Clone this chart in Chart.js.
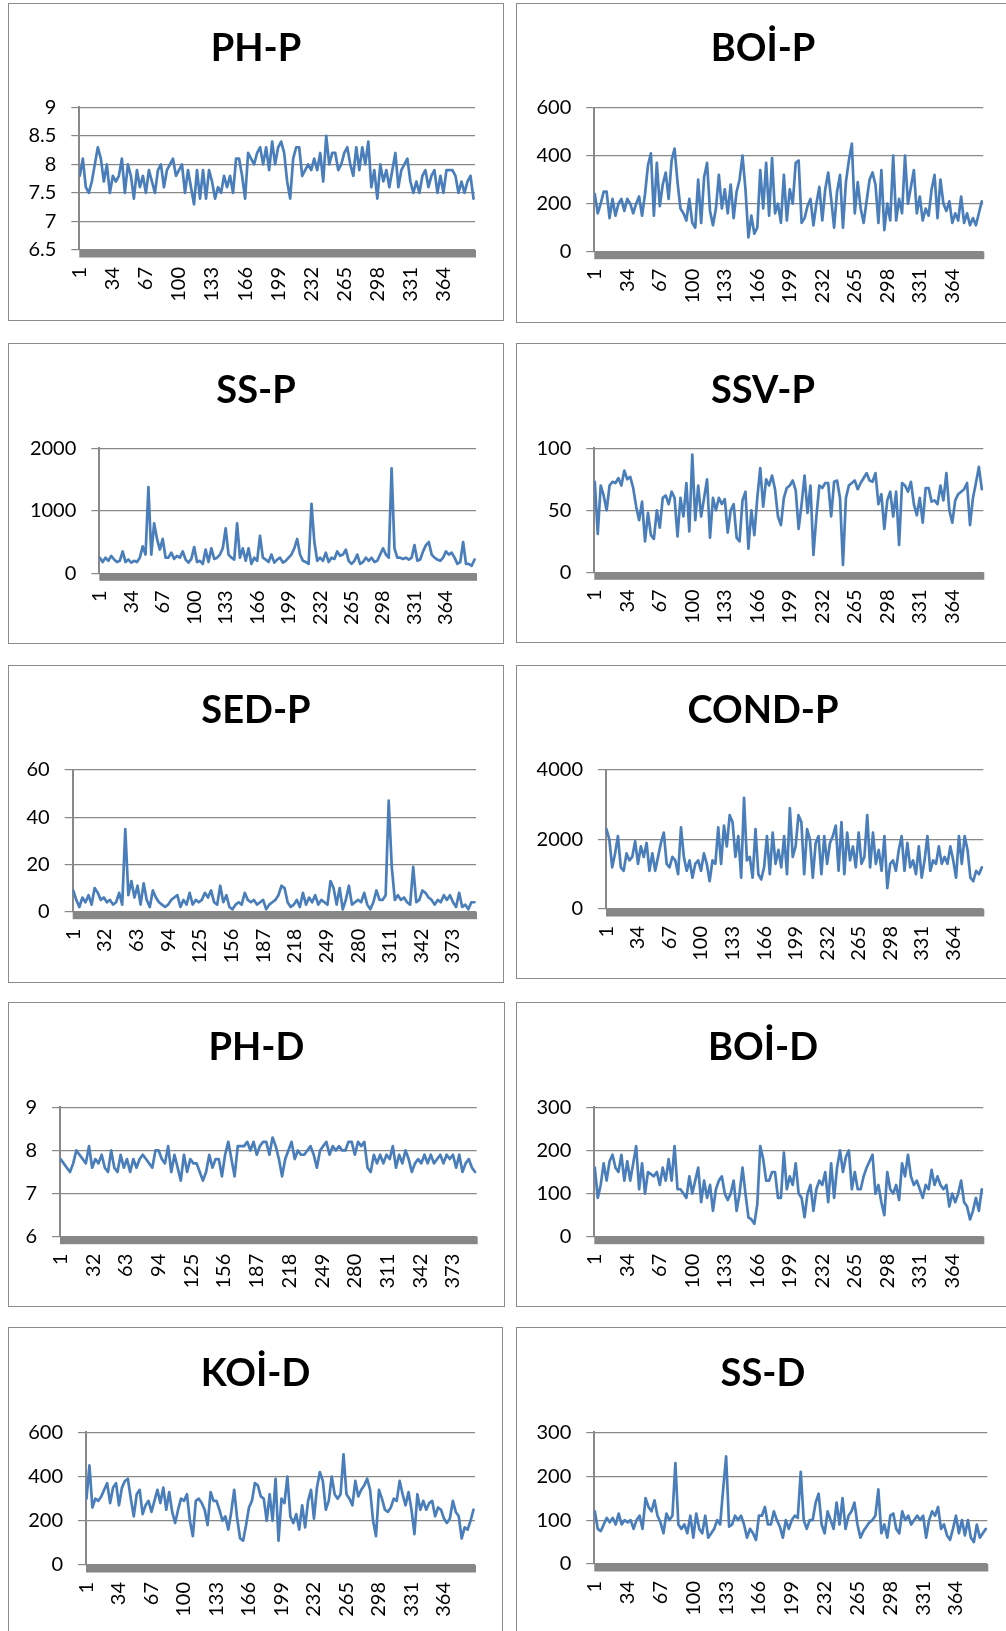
<!DOCTYPE html>
<html><head><meta charset="utf-8">
<script src="https://cdn.jsdelivr.net/npm/chart.js@4.4.1/dist/chart.umd.min.js"></script>
<style>
html,body{margin:0;padding:0;background:#fff;overflow:hidden;width:1006px;height:1631px;}
.panel{position:absolute;}
.panel canvas{position:absolute;left:0;top:0;}
.frame{position:absolute;left:0;top:0;right:0;bottom:0;border:1px solid #8a8a8a;box-sizing:border-box;pointer-events:none;}
</style></head><body>
<script>
const xTicks33 = [1,34,67,100,133,166,199,232,265,298,331,364];
const xTicks31 = [1,32,63,94,125,156,187,218,249,280,311,342,373];

const phP = [7.8,8.1,7.6,7.5,7.7,8.0,8.3,8.1,7.7,8.0, 7.5,7.8,7.7,7.8,8.1,7.5,8.0,7.8,7.4,7.9, 7.6,7.8,7.5,7.9,7.7,7.5,7.9,8.0,7.6,7.9, 8.0,8.1,7.8,7.9,8.0,7.5,7.9,7.6,7.3,7.9, 7.4,7.9,7.4,7.9,7.7,7.4,7.6,7.5,7.8,7.6, 7.8,7.5,8.1,8.1,7.8,7.4,8.2,8.1,8.0,8.2, 8.3,8.0,8.3,7.9,8.4,8.0,8.3,8.4,8.2,7.7, 7.4,8.1,8.3,8.3,7.8,7.9,8.0,7.9,8.1,7.9, 8.2,7.7,8.5,8.0,8.2,8.2,7.9,8.0,8.2,8.3, 8.0,7.8,8.3,7.9,8.3,8.0,8.4,7.6,7.9,7.4, 8.0,7.7,7.9,7.6,7.9,8.2,7.6,7.9,8.0,8.1, 7.7,7.5,7.7,7.5,7.8,7.9,7.6,7.8,7.9,7.5, 7.8,7.5,7.9,7.9,7.9,7.8,7.5,7.7,7.5,7.7, 7.8,7.4];
const phPTicks = [6.5,7,7.5,8,8.5,9];

const boiP = [240,160,200,250,250,140,220,150,200,220, 170,220,200,160,200,230,150,240,360,410, 150,370,190,280,330,220,380,430,290,180, 160,130,220,120,100,300,120,310,370,170, 110,180,320,180,260,160,280,140,250,300, 400,260,60,150,75,100,340,180,370,150, 390,160,200,120,320,130,260,200,370,380, 120,140,190,220,110,200,270,130,260,330, 220,100,250,320,100,290,380,450,160,290, 180,120,210,300,330,280,120,340,90,200, 130,400,130,220,160,400,200,270,340,160, 230,130,180,150,260,320,140,300,200,170, 210,120,160,130,230,120,160,110,140,110, 160,210];
const boiPTicks = [0,200,400,600];

const ssP = [250,180,250,200,280,220,180,200,350,180, 220,170,200,180,250,430,300,1380,300,800, 550,380,550,250,250,330,230,280,250,350, 220,170,230,420,180,200,150,380,180,400, 230,250,300,400,720,300,250,220,800,250, 400,200,400,150,250,200,600,250,220,180, 300,170,220,250,170,200,250,300,400,550, 300,200,180,150,1110,500,200,250,200,330, 180,250,230,350,280,300,380,200,150,200, 300,150,180,250,200,250,180,200,300,400, 300,250,1680,400,250,250,230,250,220,250, 450,200,220,350,450,500,300,250,220,200, 250,350,300,330,250,150,180,500,150,150, 120,220];
const ssPTicks = [0,1000,2000];

const ssvP = [73,31,70,62,50,70,73,72,76,70, 82,75,77,68,53,42,57,25,48,30, 27,50,36,60,62,55,65,60,29,60, 45,72,33,95,42,70,45,60,75,28, 60,50,60,55,59,32,50,55,28,25, 58,65,19,50,30,60,84,53,75,70, 78,67,45,38,60,68,70,74,66,35, 55,78,48,70,14,45,70,68,72,72, 45,73,74,60,6,60,70,72,74,67, 72,76,80,74,73,80,55,63,35,58, 65,45,65,22,72,70,65,73,55,46, 60,40,68,68,57,58,55,70,58,80, 50,40,58,63,65,67,72,38,60,72, 85,67];
const ssvPTicks = [0,50,100];

const sedP = [9,5,2,6,4,7,3,10,8,5, 6,4,5,3,4,8,3,35,7,13, 6,11,3,12,5,2,9,6,4,3, 2,3,5,6,7,2,5,3,8,3, 5,4,5,8,6,9,4,3,11,4, 7,2,1,3,4,3,8,5,4,5, 3,4,5,1,3,4,5,7,11,10, 4,2,3,5,2,8,3,6,4,7, 3,5,4,3,13,10,3,10,1,5, 11,3,4,5,4,8,3,1,4,9, 5,5,7,47,19,5,7,5,6,4, 3,19,4,5,9,8,6,5,3,5, 4,7,5,7,4,2,8,2,3,1, 4,4];
const sedPTicks = [0,20,40,60];

const condP = [2300,2000,1200,1600,2100,1200,1100,1600,1400,1500, 1950,1300,1800,1500,1900,1100,1600,1100,1500,1900, 2200,1300,1200,1500,1400,1000,2350,1500,1100,1400, 900,1300,1400,1100,1600,1300,800,1400,1300,2350, 1300,2400,1800,2700,2500,1500,2100,900,3200,1400, 1500,900,2300,1000,850,1200,2100,1000,2200,1300, 1700,1200,2100,1000,2900,1500,1800,2700,2500,1000, 2300,2000,900,1900,2100,1000,2100,1300,1900,2100, 2400,1100,2500,1000,2200,1400,1800,1200,2200,1300, 1500,2700,1200,2200,1300,1700,1100,2100,600,1300, 1400,1100,1700,2100,1100,1900,1200,1400,1000,1800, 900,1400,2100,1100,1400,1300,1800,1300,1500,1300, 1800,1400,900,2100,1300,2100,1700,900,800,1100, 1000,1200];
const condPTicks = [0,2000,4000];

const phD = [7.8,7.7,7.6,7.5,7.7,8.0,7.9,7.8,7.7,8.1, 7.6,7.8,7.7,7.9,7.6,7.5,8.0,7.6,7.5,7.9, 7.6,7.8,7.5,7.8,7.6,7.8,7.9,7.8,7.7,7.6, 8.0,8.0,7.8,7.7,8.1,7.5,7.9,7.6,7.3,7.9, 7.5,7.8,7.7,7.7,7.5,7.3,7.5,7.9,7.6,7.8, 7.8,7.4,7.9,8.2,7.8,7.4,8.1,8.1,8.1,8.2, 8.0,8.2,7.9,8.1,8.2,8.2,7.9,8.3,8.1,7.8, 7.4,7.8,8.0,8.2,7.8,8.0,7.9,7.9,8.0,8.1, 7.9,7.6,8.0,8.1,8.2,7.9,8.1,8.0,8.1,8.0, 8.0,8.2,8.2,7.9,8.2,8.1,8.2,7.6,7.5,7.9, 7.7,7.9,7.7,7.9,7.8,8.1,7.6,7.9,7.7,8.0, 7.8,7.5,7.7,7.8,7.7,7.9,7.7,7.9,7.7,7.8, 7.9,7.7,7.9,7.8,7.9,7.6,7.9,7.5,7.7,7.8, 7.6,7.5];
const phDTicks = [6,7,8,9];

const boiD = [160,90,120,170,130,175,190,160,150,190, 130,175,130,170,210,110,170,100,150,145, 140,150,120,160,130,180,130,210,110,110, 100,90,140,100,130,160,80,130,90,120, 60,110,130,140,100,85,100,130,60,100, 160,100,45,40,30,75,210,180,130,130, 150,150,90,90,195,110,140,120,170,100, 90,45,100,120,60,110,130,120,150,80, 170,90,160,200,150,185,200,110,150,110, 110,140,160,175,190,100,120,80,50,150, 110,100,120,85,170,140,190,140,120,130, 110,90,120,110,155,120,140,120,110,120, 70,100,80,100,130,80,70,40,60,90, 60,110];
const boiDTicks = [0,100,200,300];

const koiD = [300,450,260,300,290,310,340,370,280,350, 370,270,350,380,390,300,220,320,340,230, 270,290,240,290,340,280,350,250,330,240, 190,250,300,290,320,200,130,290,300,280, 250,180,330,290,290,250,200,220,160,240, 340,210,120,110,180,260,290,370,360,310, 300,200,320,200,390,110,300,280,400,220, 190,230,160,270,170,290,340,210,350,420, 380,250,290,400,320,300,320,500,320,300, 270,380,310,340,360,390,340,200,130,340, 300,250,240,260,300,290,380,320,270,330, 250,140,320,250,290,250,280,290,220,260, 250,210,190,210,290,240,220,120,170,160, 200,250];
const koiDTicks = [0,200,400,600];

const ssD = [120,80,75,90,105,95,105,90,115,90, 100,95,100,80,100,110,80,150,130,120, 145,110,95,70,115,100,110,230,90,80, 90,70,110,60,115,80,70,110,60,70, 80,100,90,170,245,85,90,110,100,110, 90,60,80,70,55,110,110,130,90,90, 120,100,85,60,100,80,100,110,105,210, 100,80,100,100,140,160,90,70,120,100, 80,140,90,150,80,110,120,140,90,60, 75,85,95,100,110,170,70,90,60,110, 115,80,70,120,100,110,90,100,110,100, 110,60,100,120,110,130,80,90,65,55, 80,110,70,100,65,100,60,50,90,60, 70,80];
const ssDTicks = [0,100,200,300];

// ---- layout (positions only) ----
const panels = [
  {title:'PH-P',  vals:phP,  yT:phPTicks,  xT:xTicks33, box:[8,3,496,318],    plot:[79.3,475,107.3,250],     tY:50},
  {title:'BOİ-P', vals:boiP, yT:boiPTicks, xT:xTicks33, box:[516,3,494,320],  plot:[594.3,983.3,107.7,251.7], tY:50},
  {title:'SS-P',  vals:ssP,  yT:ssPTicks,  xT:xTicks33, box:[8,343,496,301],  plot:[99.3,476,448.3,573.3],   tY:392},
  {title:'SSV-P', vals:ssvP, yT:ssvPTicks, xT:xTicks33, box:[516,343,494,300],plot:[594.3,983.3,448.3,572.3], tY:392},
  {title:'SED-P', vals:sedP, yT:sedPTicks, xT:xTicks31, box:[8,665,496,318],  plot:[72.7,476,770,911.7],     tY:712},
  {title:'COND-P',vals:condP,yT:condPTicks,xT:xTicks33, box:[516,665,494,314],plot:[606,983.3,770,909],      tY:712},
  {title:'PH-D',  vals:phD,  yT:phDTicks,  xT:xTicks31, box:[8,1002,497,305], plot:[60,476.7,1107.3,1236.7], tY:1049},
  {title:'BOİ-D', vals:boiD, yT:boiDTicks, xT:xTicks33, box:[516,1002,494,305],plot:[594.3,983.3,1107.3,1236.7],tY:1049},
  {title:'KOİ-D', vals:koiD, yT:koiDTicks, xT:xTicks33, box:[8,1327,495,330], plot:[86,475,1432.3,1565],     tY:1375},
  {title:'SS-D',  vals:ssD,  yT:ssDTicks,  xT:xTicks33, box:[516,1327,494,330],plot:[594.3,987.3,1432.3,1564],tY:1375}
];

const NDAYS = 395;
const FONT = 'Lato, "Open Sans", sans-serif';
const TITLE_SIZE = 38;
const GRID = '#888888';
const LINE = '#4a7ebb';

const floorBand = {
  id: 'floorBand',
  beforeDatasetsDraw(chart) {
    const {ctx, chartArea: a} = chart;
    ctx.save();
    ctx.fillStyle = '#878787';
    ctx.fillRect(a.left, a.bottom, a.right - a.left + 1, 7.5);
    ctx.restore();
  }
};

panels.forEach(p => {
  const [bx, by, bw, bh] = p.box;
  const [pl, pr, pt, pb] = p.plot;
  const div = document.createElement('div');
  div.className = 'panel';
  div.style.left = bx + 'px'; div.style.top = by + 'px';
  div.style.width = bw + 'px'; div.style.height = bh + 'px';
  const cv = document.createElement('canvas');
  cv.width = bw; cv.height = bh;
  cv.style.width = bw + 'px'; cv.style.height = bh + 'px';
  div.appendChild(cv);
  const fr = document.createElement('div'); fr.className = 'frame';
  div.appendChild(fr);
  document.body.appendChild(div);

  const yW = pl - bx;
  const rightPad = (bx + bw) - pr;
  const xH = bh - (pb - by);
  const lh = TITLE_SIZE * 1.2;
  const titleTopPad = (p.tY - 1) - by - lh / 2;
  const titleBotPad = (pt - by) - lh - titleTopPad;

  const data = p.vals.map((v, k) => ({x: 1 + 3 * k, y: v}));

  new Chart(cv, {
    type: 'line',
    data: {datasets: [{data, borderColor: LINE, borderWidth: 2.7, pointRadius: 0, tension: 0,
      borderJoinStyle: 'round', borderCapStyle: 'round', fill: false}]},
    options: {
      responsive: false, animation: false, devicePixelRatio: 1,
      layout: {padding: 0},
      plugins: {
        legend: {display: false}, tooltip: {enabled: false},
        title: {display: true, text: p.title, color: '#000',
          font: {family: FONT, size: TITLE_SIZE, weight: 'bold', lineHeight: 1.2},
          padding: {top: titleTopPad, bottom: titleBotPad}}
      },
      scales: {
        x: {
          type: 'linear', min: 0.5, max: NDAYS + 0.5,
          grid: {display: false, drawTicks: false},
          border: {display: false},
          ticks: {autoSkip: false, maxRotation: 90, minRotation: 90, padding: 17,
            color: '#000', font: {family: FONT, size: 20},
            callback: v => String(v)},
          afterBuildTicks: s => { s.ticks = p.xT.map(v => ({value: v})); },
          afterFit: s => { s.height = xH; s.paddingLeft = 0; s.paddingRight = rightPad; }
        },
        y: {
          type: 'linear', min: p.yT[0], max: p.yT[p.yT.length - 1],
          grid: {color: GRID, lineWidth: 1.2, tickLength: 8, drawTicks: true, tickColor: GRID},
          border: {display: true, color: GRID, width: 2},
          ticks: {padding: 15, color: '#000', font: {family: FONT, size: 20},
            callback: v => String(v)},
          afterBuildTicks: s => { s.ticks = p.yT.map(v => ({value: v})); },
          afterFit: s => { s.width = yW; s.paddingTop = 0; s.paddingBottom = 0; }
        }
      }
    },
    plugins: [floorBand]
  });
});
</script>
</body></html>
